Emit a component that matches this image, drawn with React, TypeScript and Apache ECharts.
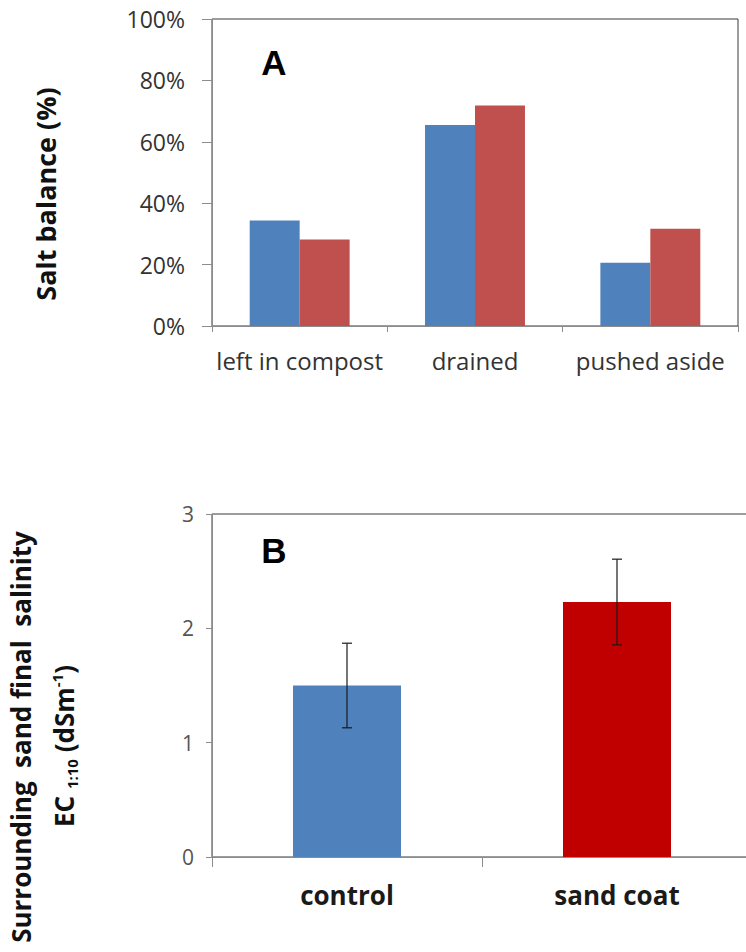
import React, { useEffect, useRef } from "react";
import * as echarts from "echarts";

const categoriesA = ["left in compost", "drained", "pushed aside"];
const series1A = [0.344, 0.655, 0.206];
const series2A = [0.282, 0.718, 0.317];
const ticksA = [0, 0.2, 0.4, 0.6, 0.8, 1.0];
const titleA = "Salt balance (%)";

const categoriesB = ["control", "sand coat"];
const valuesB = [1.5, 2.23];
const errorsB = [0.37, 0.375];
const colorsB = ["#4F81BD", "#C00000"];
const titleB1 = "Surrounding  sand final  salinity";
const titleB2 = "EC {sub|1:10} (dSm{sup|-1})";

const FONT = "'Open Sans', Lato, sans-serif";

export default function App() {
  const ref = useRef<HTMLDivElement>(null);
  useEffect(() => {
    if (!ref.current) return;
    const chart = echarts.init(ref.current, null, { renderer: "svg" });
    const option: any = {
      animation: false,
      backgroundColor: "#ffffff",
      textStyle: { fontFamily: FONT },
      grid: [
        { left: 212, top: 19, width: 526, height: 307, show: true, borderColor: "#3a3a3a", borderWidth: 1, backgroundColor: "transparent", containLabel: false, outerBoundsMode: "none" },
        { left: 212, top: 514, width: 540, height: 343, show: true, borderColor: "#3a3a3a", borderWidth: 1, backgroundColor: "transparent", containLabel: false, outerBoundsMode: "none" },
      ],
      xAxis: [
        {
          type: "category",
          gridIndex: 0,
          data: categoriesA,
          axisLine: { lineStyle: { color: "#8c8c8c", width: 1 } },
          axisTick: { show: true, length: 6, lineStyle: { color: "#8c8c8c" } },
          axisLabel: { interval: 0, fontFamily: FONT, fontSize: 24, color: "#333333", margin: 22 },
        },
        {
          type: "category",
          gridIndex: 1,
          data: categoriesB,
          axisLine: { lineStyle: { color: "#8c8c8c", width: 1 } },
          axisTick: { show: true, length: 10, lineStyle: { color: "#8c8c8c" } },
          axisLabel: { interval: 0, fontFamily: FONT, fontSize: 26, fontWeight: "bold", color: "#1a1a1a", margin: 25 },
        },
      ],
      yAxis: [
        {
          type: "value",
          gridIndex: 0,
          min: 0,
          max: 1,
          interval: 0.2,
          splitLine: { show: false },
          axisLine: { show: true, lineStyle: { color: "#8c8c8c", width: 1 } },
          axisTick: { show: true, length: 10, inside: false, lineStyle: { color: "#8c8c8c" } },
          axisLabel: {
            fontFamily: FONT,
            fontSize: 23,
            color: "#333333",
            margin: 27,
            formatter: (v: number) => {
              const t = ticksA.find((x) => Math.abs(x - v) < 1e-6);
              return Math.round((t ?? v) * 100) + "%";
            },
          },
        },
        {
          type: "value",
          gridIndex: 1,
          min: 0,
          max: 3,
          interval: 1,
          splitLine: { show: false },
          axisLine: { show: true, lineStyle: { color: "#8c8c8c", width: 1 } },
          axisTick: { show: true, length: 6, lineStyle: { color: "#8c8c8c" } },
          axisLabel: { fontFamily: FONT, fontSize: 21, color: "#555555", margin: 18 },
        },
      ],
      series: [
        {
          name: "Series 1",
          type: "bar",
          xAxisIndex: 0,
          yAxisIndex: 0,
          data: series1A,
          itemStyle: { color: "#4F81BD" },
          barGap: "0%",
          barCategoryGap: "43%",
        },
        {
          name: "Series 2",
          type: "bar",
          xAxisIndex: 0,
          yAxisIndex: 0,
          data: series2A,
          itemStyle: { color: "#C0504D" },
          barGap: "0%",
          barCategoryGap: "43%",
        },
        {
          name: "Salinity",
          type: "bar",
          xAxisIndex: 1,
          yAxisIndex: 1,
          data: valuesB.map((v, i) => ({ value: v, itemStyle: { color: colorsB[i] } })),
          barCategoryGap: "60%",
        },
        {
          name: "Error",
          type: "custom",
          xAxisIndex: 1,
          yAxisIndex: 1,
          data: valuesB.map((v, i) => [i, v, errorsB[i]]),
          z: 10,
          renderItem: (params: any, api: any) => {
            const x = api.value(0);
            const y = api.value(1);
            const e = api.value(2);
            const top = api.coord([x, y + e]);
            const bot = api.coord([x, y - e]);
            const hw = 5;
            const style = { stroke: "#1a1a1a", lineWidth: 1.2 };
            return {
              type: "group",
              children: [
                { type: "line", shape: { x1: top[0], y1: top[1], x2: bot[0], y2: bot[1] }, style },
                { type: "line", shape: { x1: top[0] - hw, y1: top[1], x2: top[0] + hw, y2: top[1] }, style },
                { type: "line", shape: { x1: bot[0] - hw, y1: bot[1], x2: bot[0] + hw, y2: bot[1] }, style },
              ],
            };
          },
        },
      ],
      graphic: [
        { type: "text", x: 274, y: 62, style: { text: "A", fontFamily: "'Liberation Sans', Arial, sans-serif", fontSize: 35, fontWeight: "bold", fill: "#000000", align: "center", verticalAlign: "middle" } },
        { type: "text", x: 274, y: 550, style: { text: "B", fontFamily: "'Liberation Sans', Arial, sans-serif", fontSize: 35, fontWeight: "bold", fill: "#000000", align: "center", verticalAlign: "middle" } },
        {
          type: "text", x: 45, y: 194, rotation: Math.PI / 2,
          style: { text: titleA, fontFamily: FONT, fontSize: 27, fontWeight: "bold", fill: "#111111", align: "center", verticalAlign: "middle" },
        },
        {
          type: "text", x: 21, y: 737, rotation: Math.PI / 2,
          style: { text: titleB1, fontFamily: FONT, fontSize: 26, fontWeight: "bold", fill: "#111111", align: "center", verticalAlign: "middle" },
        },
        {
          type: "text", x: 64, y: 746, rotation: Math.PI / 2,
          style: {
            text: titleB2, fontFamily: FONT, fontSize: 26, fontWeight: "bold", fill: "#111111", align: "center", verticalAlign: "middle",
            rich: {
              sub: { fontFamily: FONT, fontSize: 15, fontWeight: "bold", fill: "#111111", verticalAlign: "bottom", lineHeight: 30 },
              sup: { fontFamily: FONT, fontSize: 15, fontWeight: "bold", fill: "#111111", verticalAlign: "top", lineHeight: 30 },
            },
          },
        },
      ],
    };
    chart.setOption(option);
    return () => chart.dispose();
  }, []);
  return (
    <div style={{ position: "fixed", left: 0, top: 0, width: 746, height: 952, overflow: "hidden", background: "#fff" }}>
      <div ref={ref} style={{ width: 746, height: 952 }} />
    </div>
  );
}
